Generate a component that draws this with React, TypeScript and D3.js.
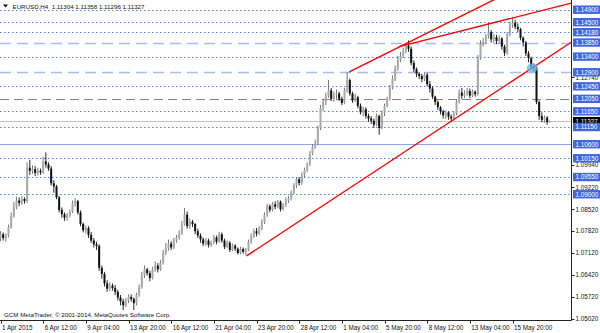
import React from 'react';
import * as d3 from 'd3';

const W = 600;
const H = 333;
const PLOT_R = 571.5;
const PLOT_B = 320.5;

const firstOpen = 1.076;
const closes = [
  1.0772,1.0760,1.0768,1.0795,1.0830,1.0858,1.0880,
  1.0872,1.0885,1.0878,1.0985,1.0975,1.0980,
  1.0968,1.0975,1.0970,1.1005,1.0995,1.0982,
  1.0935,1.0925,1.0890,1.0850,1.0836,1.0825,
  1.0832,1.0845,1.0870,1.0878,1.0842,1.0805,
  1.0785,1.0792,1.0770,1.0752,1.0740,1.0735,
  1.0665,1.0645,1.0615,1.0598,1.0608,1.0600,
  1.0588,1.0570,1.0558,1.0545,1.0560,1.0572,
  1.0565,1.0552,1.0578,1.0605,1.0640,1.0660,
  1.0648,1.0632,1.0660,1.0672,1.0660,1.0682,
  1.0712,1.0728,1.0742,1.0730,1.0752,1.0762,
  1.0775,1.0805,1.0835,1.0798,1.0812,1.0805,
  1.0782,1.0768,1.0756,1.0742,1.0752,1.0738,
  1.0745,1.0762,1.0748,1.0772,1.0752,1.0732,
  1.0745,1.0722,1.0736,1.0726,1.0712,1.0725,
  1.0716,1.0722,1.0748,1.0765,1.0782,1.0775,
  1.0790,1.0812,1.0835,1.0862,1.0850,1.0868,
  1.0860,1.0876,1.0852,1.0866,1.0880,1.0886,
  1.0905,1.0928,1.0948,1.0936,1.0962,1.0978,
  1.0995,1.1030,1.1052,1.1062,1.1110,1.1175,
  1.1195,1.1215,1.1232,1.1205,1.1218,1.1222,
  1.1205,1.1192,1.1232,1.1265,1.1222,1.1200,
  1.1210,1.1182,1.1162,1.1172,1.1150,1.1142,
  1.1135,1.1122,1.1150,1.1112,1.1160,1.1182,
  1.1205,1.1242,1.1270,1.1302,1.1330,1.1342,
  1.1358,1.1375,1.1365,1.1320,1.1300,1.1285,
  1.1278,1.1268,1.1282,1.1252,1.1238,1.1212,
  1.1195,1.1178,1.1165,1.1152,1.1162,1.1148,
  1.1142,1.1158,1.1195,1.1225,1.1215,1.1222,
  1.1230,1.1215,1.1228,1.1220,1.1335,1.1380,
  1.1388,1.1405,1.1418,1.1395,1.1402,1.1390,
  1.1398,1.1372,1.1352,1.1410,1.1440,1.1448,
  1.1435,1.1428,1.1400,1.1385,1.1350,1.1335,
  1.1308,1.1302,1.1195,1.1150,1.1138,1.1145,
  1.11304,1.11327,
];
const highs = [
  1.0782,1.0778,1.0775,1.0803,1.0842,1.0875,1.0892,
  1.0890,1.0893,1.0890,1.1002,1.1010,1.0992,
  1.0990,1.0985,1.0982,1.1020,1.1034,1.1002,
  1.0990,1.0945,1.0930,1.0895,1.0858,1.0842,
  1.0840,1.0852,1.0880,1.0888,1.0882,1.0848,
  1.0810,1.0800,1.0798,1.0780,1.0760,1.0748,
  1.0740,1.0672,1.0652,1.0625,1.0618,1.0615,
  1.0610,1.0595,1.0578,1.0566,1.0568,1.0580,
  1.0580,1.0570,1.0585,1.0612,1.0652,1.0672,
  1.0665,1.0655,1.0668,1.0685,1.0680,1.0690,
  1.0722,1.0745,1.0755,1.0750,1.0760,1.0770,
  1.0785,1.0815,1.0856,1.0845,1.0822,1.0818,
  1.0808,1.0790,1.0775,1.0762,1.0760,1.0758,
  1.0752,1.0770,1.0768,1.0780,1.0778,1.0758,
  1.0752,1.0750,1.0742,1.0740,1.0730,1.0732,
  1.0730,1.0728,1.0755,1.0775,1.0790,1.0792,
  1.0798,1.0820,1.0842,1.0870,1.0868,1.0875,
  1.0878,1.0882,1.0880,1.0872,1.0890,1.0895,
  1.0912,1.0935,1.0955,1.0955,1.0970,1.0985,
  1.1002,1.1038,1.1060,1.1075,1.1120,1.1185,
  1.1205,1.1225,1.1265,1.1240,1.1228,1.1235,
  1.1228,1.1212,1.1240,1.1290,1.1270,1.1228,
  1.1222,1.1215,1.1190,1.1180,1.1178,1.1158,
  1.1150,1.1142,1.1158,1.1155,1.1168,1.1190,
  1.1212,1.1250,1.1280,1.1312,1.1342,1.1355,
  1.1368,1.1382,1.1392,1.1372,1.1328,1.1305,
  1.1290,1.1285,1.1290,1.1288,1.1262,1.1245,
  1.1215,1.1200,1.1182,1.1170,1.1168,1.1165,
  1.1155,1.1165,1.1202,1.1235,1.1240,1.1232,
  1.1240,1.1238,1.1235,1.1232,1.1345,1.1392,
  1.1400,1.1412,1.1448,1.1425,1.1412,1.1410,
  1.1408,1.1402,1.1378,1.1418,1.1452,1.1467,
  1.1458,1.1446,1.1432,1.1405,1.1390,1.1358,
  1.1340,1.1318,1.1308,1.1200,1.1162,1.1152,
  1.1150,1.11358,
];
const lows = [
  1.0750,1.0752,1.0748,1.0762,1.0790,1.0825,1.0852,
  1.0862,1.0866,1.0870,1.0872,1.0962,1.0965,
  1.0958,1.0960,1.0962,1.0965,1.0985,1.0975,
  1.0928,1.0905,1.0884,1.0842,1.0825,1.0815,
  1.0815,1.0826,1.0840,1.0860,1.0835,1.0798,
  1.0778,1.0775,1.0760,1.0745,1.0730,1.0722,
  1.0655,1.0630,1.0605,1.0588,1.0590,1.0592,
  1.0578,1.0560,1.0545,1.0530,1.0540,1.0552,
  1.0556,1.0530,1.0545,1.0572,1.0598,1.0632,
  1.0640,1.0622,1.0628,1.0652,1.0650,1.0655,
  1.0675,1.0705,1.0720,1.0722,1.0725,1.0745,
  1.0755,1.0770,1.0800,1.0790,1.0790,1.0795,
  1.0772,1.0760,1.0745,1.0735,1.0735,1.0730,
  1.0732,1.0740,1.0740,1.0745,1.0745,1.0725,
  1.0728,1.0715,1.0718,1.0718,1.0708,1.0708,
  1.0710,1.0704,1.0718,1.0742,1.0760,1.0765,
  1.0770,1.0785,1.0805,1.0828,1.0842,1.0845,
  1.0852,1.0855,1.0845,1.0848,1.0860,1.0872,
  1.0880,1.0900,1.0920,1.0928,1.0930,1.0955,
  1.0970,1.0990,1.1025,1.1045,1.1058,1.1105,
  1.1165,1.1185,1.1208,1.1198,1.1195,1.1205,
  1.1198,1.1185,1.1188,1.1225,1.1215,1.1192,
  1.1195,1.1175,1.1155,1.1150,1.1142,1.1132,
  1.1125,1.1112,1.1118,1.1090,1.1108,1.1150,
  1.1178,1.1200,1.1235,1.1262,1.1295,1.1322,
  1.1335,1.1350,1.1355,1.1312,1.1290,1.1275,
  1.1268,1.1258,1.1262,1.1245,1.1225,1.1205,
  1.1185,1.1170,1.1155,1.1142,1.1140,1.1138,
  1.1132,1.1135,1.1152,1.1190,1.1205,1.1208,
  1.1215,1.1208,1.1210,1.1212,1.1215,1.1330,
  1.1372,1.1380,1.1398,1.1385,1.1385,1.1380,
  1.1382,1.1362,1.1342,1.1345,1.1405,1.1432,
  1.1428,1.1418,1.1392,1.1372,1.1342,1.1322,
  1.1298,1.1292,1.1188,1.1138,1.1130,1.1128,
  1.1122,1.11296,
];

const timeLabels = ['1 Apr 2015','6 Apr 12:00','9 Apr 04:00','13 Apr 20:00','16 Apr 12:00','21 Apr 04:00','23 Apr 20:00','28 Apr 12:00','1 May 04:00','5 May 20:00','8 May 12:00','13 May 04:00','15 May 20:00'];
const timeLabelBars = [0,16,32,48,64,80,96,112,128,144,160,176,192];

const dottedLevels = [1.149,1.145,1.1418,1.134,1.1245,1.1165,1.1115,1.1015,1.0955,1.09];
const dashedLevels = [1.1385,1.129];
const grayDashedLevels = [1.1205];
const solidLevels = [1.106];
const highlightedLevels = [1.149,1.145,1.1418,1.1385,1.134,1.129,1.1245,1.1205,1.1165,1.1115,1.106,1.1015,1.0955,1.09];
const plainPriceTicks = [1.1274,1.0994,1.0922,1.0852,1.0782,1.0712,1.0642,1.0572,1.0502];
const bidPrice = 1.11327;

// trend lines: [barIndex, price] pairs
const supportLine = [[92.3,1.0703],[199.4,1.1304]];
const resistA = [[130.8,1.1291],[153.6,1.1388]];
const resistB = [[149.5,1.1372],[214,1.1511]];
const markerPoint = [199.4,1.1304];

const title = 'EURUSD,H4  1.11304 1.11358 1.11296 1.11327';
const footer = 'GCM MetaTrader, \u00A9 2001-2014, MetaQuotes Software Corp.';

const FONT = '"Liberation Sans", Arial, sans-serif';

export default function App() {
  const x = d3.scaleLinear().domain([0, 214]).range([0.5, 0.5 + 214 * 2.6667]);
  const y = d3.scaleLinear().domain([1.0498, 1.1521]).range([320, 0]);
  const opens = [firstOpen, ...closes.slice(0, -1)];
  const fmt = d3.format('.5f');

  const extend = (pts: number[][], x0: number, x1: number) => {
    const [[a, pa], [b, pb]] = pts;
    const s = (pb - pa) / (b - a);
    return [[x0, pa + s * (x0 - a)], [x1, pa + s * (x1 - a)]];
  };
  const line = d3.line<number[]>().x(d => x(d[0])).y(d => y(d[1]));

  const sup = extend(supportLine, supportLine[0][0], 214);
  const ra = extend(resistA, resistA[0][0], 214);
  const rb = extend(resistB, resistB[0][0], 214);

  const hLine = (p: number, key: string, stroke: string, dash?: string, sw = 1) => (
    <line key={key} x1={0} x2={PLOT_R} y1={Math.round(y(p)) + 0.5} y2={Math.round(y(p)) + 0.5}
      stroke={stroke} strokeDasharray={dash} strokeWidth={sw} />
  );

  return (
    <svg width={W} height={H} style={{ position: 'fixed', left: 0, top: 0, background: '#fff' }}
      fontFamily={FONT}>
      <defs>
        <clipPath id="plot"><rect x={0} y={0} width={PLOT_R} height={PLOT_B} /></clipPath>
      </defs>
      <rect x={0} y={0} width={W} height={H} fill="#fff" />
      <g clipPath="url(#plot)">
        {dottedLevels.map((p, i) => hLine(p, 'd' + i, '#5a7fe0', '1.5,2.5'))}
        {dashedLevels.map((p, i) => hLine(p, 'D' + i, '#a9bdf2', '11,6', 1.3))}
        {grayDashedLevels.map((p, i) => hLine(p, 'g' + i, '#7c8296', '9,5'))}
        {solidLevels.map((p, i) => hLine(p, 's' + i, '#8ea6ee'))}
        {hLine(bidPrice, 'bid', '#c4c4c4')}
        {closes.map((c, i) => {
          const o = opens[i];
          const up = c >= o;
          const cx = x(i);
          const top = y(Math.max(o, c));
          const bot = y(Math.min(o, c));
          return (
            <g key={i}>
              <line x1={cx} x2={cx} y1={y(highs[i])} y2={y(lows[i])} stroke={up ? '#6a6a6a' : '#111'} strokeWidth={0.9} />
              <rect x={cx - 1} y={top} width={2} height={Math.max(0.8, bot - top)} fill={up ? '#a8a8a8' : '#111'} />
            </g>
          );
        })}
        <path d={line(sup) || ''} stroke="#ff0000" strokeWidth={1.4} fill="none" />
        <path d={line(ra) || ''} stroke="#ff0000" strokeWidth={1.4} fill="none" />
        <path d={line(rb) || ''} stroke="#ff0000" strokeWidth={1.4} fill="none" />
        <ellipse cx={x(markerPoint[0])} cy={y(markerPoint[1])} rx={5.5} ry={4.5} fill="#5ab8ea" opacity={0.75} />
      </g>
      {/* axes */}
      <line x1={PLOT_R} x2={PLOT_R} y1={0} y2={PLOT_B} stroke="#222" />
      <line x1={0} x2={PLOT_R} y1={PLOT_B} y2={PLOT_B} stroke="#222" />
      {timeLabelBars.map((b, i) => (
        <g key={'t' + i}>
          <line x1={Math.round(x(b)) + 0.5} x2={Math.round(x(b)) + 0.5} y1={PLOT_B} y2={PLOT_B + 3} stroke="#222" />
          <text x={x(b) + 1.5} y={330} fontSize={6.3} fill="#111">{timeLabels[i]}</text>
        </g>
      ))}
      {plainPriceTicks.map((p, i) => (
        <g key={'p' + i}>
          <line x1={PLOT_R} x2={PLOT_R + 3} y1={Math.round(y(p)) + 0.5} y2={Math.round(y(p)) + 0.5} stroke="#222" />
          <text x={575.5} y={y(p) + 2.3} fontSize={6.3} fill="#111">{fmt(p)}</text>
        </g>
      ))}
      <rect x={573} y={y(bidPrice) - 4.5} width={27} height={9} fill="#000" />
      <text x={575.5} y={y(bidPrice) + 2.3} fontSize={6.3} fill="#fff">{fmt(bidPrice)}</text>
      {highlightedLevels.map((p, i) => (
        <g key={'h' + i}>
          <rect x={573} y={y(p) - 4.2} width={27} height={8.4} fill="#3f67e0" />
          <text x={575.5} y={y(p) + 2.3} fontSize={6.3} fill="#fff">{fmt(p)}</text>
        </g>
      ))}
      {/* title */}
      <path d="M3,4.5 L8,4.5 L5.5,7.5 Z" fill="#111" />
      <text x={12.5} y={8.6} fontSize={6.2} fill="#111" style={{ whiteSpace: 'pre' }}>{title}</text>
      <text x={4} y={317} fontSize={6.2} fill="#111">{footer}</text>
    </svg>
  );
}
